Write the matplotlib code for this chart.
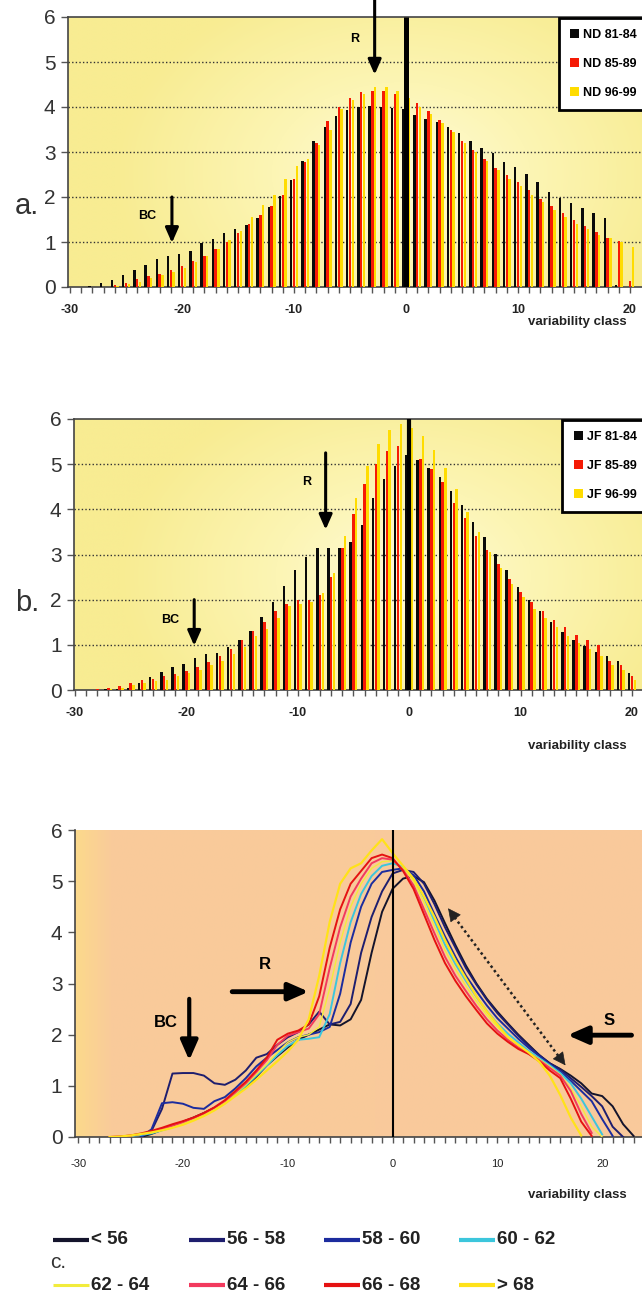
import numpy as np
import matplotlib
matplotlib.use("Agg")
import matplotlib.pyplot as plt
from matplotlib.colors import LinearSegmentedColormap
from matplotlib.lines import Line2D

plt.rcParams['font.family'] = ['Liberation Sans', 'DejaVu Sans']
plt.rcParams['axes.unicode_minus'] = False

## data, panel a (Nov-Dec)
classes = np.arange(-29, 21)
nd_labels = ["ND 81-84", "ND 85-89", "ND 96-99"]
nd_81_84 = [0.0, 0.03, 0.09, 0.16, 0.26, 0.38, 0.48, 0.62, 0.70, 0.74, 0.81, 0.98, 1.06, 1.20, 1.30,
            1.38, 1.53, 1.77, 2.03, 2.38, 2.79, 3.25, 3.55, 3.80, 3.93, 4.00, 4.02, 4.00, 3.98, 3.95,
            3.82, 3.73, 3.66, 3.56, 3.42, 3.25, 3.08, 2.98, 2.78, 2.66, 2.52, 2.33, 2.12, 1.98, 1.86,
            1.75, 1.64, 1.53, 0.05, 0.0]
nd_85_89 = [0.0, 0.0, 0.01, 0.04, 0.10, 0.18, 0.25, 0.30, 0.37, 0.46, 0.57, 0.68, 0.84, 1.01, 1.20,
            1.40, 1.60, 1.80, 2.05, 2.40, 2.78, 3.20, 3.68, 4.00, 4.20, 4.33, 4.35, 4.36, 4.30, 4.30,
            4.10, 3.92, 3.72, 3.50, 3.25, 3.05, 2.85, 2.65, 2.50, 2.33, 2.15, 1.95, 1.80, 1.65, 1.50,
            1.35, 1.22, 1.10, 1.02, 0.13]
nd_96_99 = [0.0, 0.0, 0.0, 0.02, 0.06, 0.12, 0.20, 0.26, 0.33, 0.42, 0.55, 0.68, 0.85, 1.05, 1.25,
            1.55, 1.82, 2.05, 2.40, 2.70, 2.85, 3.15, 3.50, 3.95, 4.15, 4.30, 4.45, 4.45, 4.35, 4.20,
            4.00, 3.85, 3.65, 3.45, 3.20, 3.00, 2.80, 2.60, 2.40, 2.25, 2.05, 1.90, 1.72, 1.55, 1.40,
            1.30, 1.15, 1.10, 1.00, 0.90]

## data, panel b (Jan-Feb)
jf_labels = ["JF 81-84", "JF 85-89", "JF 96-99"]
jf_81_84 = [0.0, 0.0, 0.02, 0.03, 0.05, 0.15, 0.28, 0.40, 0.52, 0.57, 0.70, 0.80, 0.83, 0.95, 1.10,
            1.30, 1.62, 1.95, 2.30, 2.65, 2.95, 3.15, 3.15, 3.15, 3.28, 3.65, 4.25, 4.67, 4.95, 5.20,
            5.10, 4.92, 4.72, 4.40, 4.10, 3.72, 3.38, 3.02, 2.65, 2.28, 2.00, 1.76, 1.50, 1.28, 1.10,
            0.98, 0.85, 0.76, 0.65, 0.38]
jf_85_89 = [0.0, 0.02, 0.05, 0.08, 0.15, 0.22, 0.25, 0.30, 0.36, 0.42, 0.52, 0.62, 0.75, 0.90, 1.10,
            1.30, 1.50, 1.75, 1.90, 2.00, 2.00, 2.10, 2.50, 3.15, 3.90, 4.55, 5.00, 5.30, 5.40, 5.35,
            5.12, 4.90, 4.60, 4.15, 3.80, 3.42, 3.10, 2.78, 2.45, 2.18, 1.95, 1.76, 1.55, 1.40, 1.22,
            1.10, 1.00, 0.65, 0.55, 0.30]
jf_96_99 = [0.0, 0.0, 0.03, 0.05, 0.10, 0.15, 0.20, 0.22, 0.30, 0.38, 0.45, 0.55, 0.65, 0.80, 0.95,
            1.20, 1.35, 1.60, 1.85, 1.90, 1.95, 2.15, 2.60, 3.40, 4.25, 4.95, 5.45, 5.75, 5.88, 5.80,
            5.62, 5.32, 4.92, 4.45, 3.95, 3.50, 3.05, 2.70, 2.35, 2.05, 1.80, 1.60, 1.40, 1.20, 1.05,
            0.90, 0.75, 0.55, 0.45, 0.22]

## data, panel c (curves by class), x = -27 .. 24
classes_c = np.arange(-27, 25)
c_labels = ["< 56", "56 - 58", "58 - 60", "60 - 62", "62 - 64", "64 - 66", "66 - 68", "> 68"]
c_lt56 = [None, None, None, 0.0, 0.06, 0.14, 0.22, 0.30, 0.38, 0.47, 0.57, 0.68, 0.82, 0.98, 1.18,
          1.40, 1.58, 1.75, 1.90, 2.00, 2.10, 2.20, 2.18, 2.30, 2.68, 3.60, 4.40,
          4.85, 5.05, 5.10, 4.98, 4.62, 4.18, 3.75, 3.35, 3.00, 2.70, 2.45, 2.22, 2.00, 1.80, 1.60,
          1.44, 1.33, 1.20, 1.05, 0.85, 0.80, 0.60, 0.25, 0.02, None]
c_56_58 = [None, None, None, 0.0, 0.12, 0.55, 1.24, 1.25, 1.25, 1.20, 1.05, 1.02, 1.12, 1.30, 1.55,
           1.62, 1.80, 1.95, 2.05, 2.20, 2.45, 2.20, 2.25, 2.60, 3.60, 4.30, 4.80,
           5.15, 5.22, 5.18, 4.95, 4.55, 4.10, 3.70, 3.30, 2.98, 2.68, 2.42, 2.20, 1.98, 1.78, 1.60,
           1.44, 1.32, 1.15, 0.98, 0.80, 0.60, 0.20, 0.0, None, None]
c_58_60 = [None, None, None, 0.0, 0.15, 0.66, 0.68, 0.65, 0.57, 0.55, 0.70, 0.78, 0.95, 1.15, 1.38,
           1.55, 1.70, 1.85, 1.95, 2.00, 2.05, 2.15, 2.80, 3.80, 4.50, 4.95, 5.18,
           5.22, 5.25, 5.12, 4.80, 4.35, 3.92, 3.52, 3.15, 2.85, 2.57, 2.32, 2.12, 1.92, 1.74, 1.58,
           1.42, 1.28, 1.10, 0.90, 0.70, 0.35, 0.02, None, None, None]
c_60_62 = [None, 0.0, 0.02, 0.04, 0.07, 0.13, 0.19, 0.26, 0.34, 0.43, 0.54, 0.67, 0.82, 1.00, 1.20,
           1.40, 1.60, 1.78, 1.90, 1.92, 1.95, 2.40, 3.40, 4.20, 4.75, 5.10, 5.30,
           5.35, 5.28, 5.05, 4.68, 4.22, 3.76, 3.38, 3.05, 2.74, 2.46, 2.22, 2.02, 1.85, 1.68, 1.54,
           1.40, 1.25, 1.05, 0.75, 0.40, 0.05, None, None, None, None]
c_62_64 = [0.0, 0.01, 0.02, 0.05, 0.08, 0.14, 0.20, 0.27, 0.35, 0.44, 0.55, 0.68, 0.84, 1.02, 1.22,
           1.42, 1.65, 1.85, 1.95, 2.00, 2.15, 2.90, 3.80, 4.50, 4.95, 5.25, 5.38,
           5.40, 5.25, 5.00, 4.58, 4.12, 3.65, 3.28, 2.95, 2.65, 2.38, 2.15, 1.95, 1.79, 1.65, 1.52,
           1.38, 1.22, 0.95, 0.60, 0.20, 0.0, None, None, None, None]
c_64_66 = [0.0, 0.01, 0.03, 0.06, 0.10, 0.16, 0.22, 0.29, 0.37, 0.46, 0.57, 0.70, 0.87, 1.05, 1.27,
           1.50, 1.80, 1.98, 2.05, 2.12, 2.40, 3.30, 4.10, 4.70, 5.05, 5.35, 5.45,
           5.42, 5.22, 4.92, 4.45, 3.98, 3.52, 3.15, 2.85, 2.56, 2.30, 2.08, 1.90, 1.75, 1.63, 1.50,
           1.35, 1.20, 0.90, 0.45, 0.08, None, None, None, None, None]
c_66_68 = [0.0, 0.01, 0.03, 0.07, 0.12, 0.18, 0.25, 0.31, 0.38, 0.47, 0.58, 0.72, 0.90, 1.08, 1.30,
           1.55, 1.90, 2.02, 2.08, 2.20, 2.75, 3.70, 4.45, 4.95, 5.20, 5.45, 5.52,
           5.45, 5.20, 4.85, 4.35, 3.85, 3.40, 3.05, 2.75, 2.48, 2.22, 2.02, 1.86, 1.72, 1.62, 1.48,
           1.30, 1.15, 0.75, 0.30, 0.02, None, None, None, None, None]
c_gt68 = [0.0, 0.01, 0.03, 0.06, 0.09, 0.13, 0.18, 0.24, 0.32, 0.41, 0.52, 0.65, 0.80, 0.95, 1.12,
          1.30, 1.48, 1.67, 1.90, 2.30, 3.15, 4.20, 4.95, 5.25, 5.35, 5.60, 5.82,
          5.55, 5.30, 5.05, 4.70, 4.30, 3.85, 3.45, 3.10, 2.75, 2.45, 2.20, 1.95, 1.80, 1.65, 1.47,
          1.20, 0.82, 0.38, 0.03, None, None, None, None, None, None]

bar_colors = ["#0a0a0a", "#f51a05", "#ffdc00"]
c_colors = ["#14142c", "#1e1e6e", "#1c2c9e", "#3cc6dc", "#f2ec3c", "#f23a5e", "#e51212", "#ffe21a"]
c_widths = [1.4, 1.4, 1.4, 1.4, 1.0, 1.4, 1.4, 1.6]

W, H = 642, 1303
fig = plt.figure(figsize=(W / 100, H / 100), dpi=100)


def box(l, t, r, b):
    return [l / W, 1 - b / H, (r - l) / W, (b - t) / H]


def glow(ax, xl, stops, cx, cy, rx, ry):
    # radial glow behind the bars
    xx, yy = np.meshgrid(np.linspace(0, 1, 300), np.linspace(0, 1, 300))
    r = np.clip(np.sqrt(((xx - cx) / rx) ** 2 + ((yy - cy) / ry) ** 2), 0, 1)
    cmap = LinearSegmentedColormap.from_list("g", stops)
    ax.imshow(r, extent=(xl[0], xl[1], 0, 6), origin="lower", aspect="auto", cmap=cmap,
              vmin=0, vmax=1, zorder=0, interpolation="bilinear")


def arrow(ax, start, end, lw=2.2, ms=18):
    ax.annotate("", xy=end, xytext=start, annotation_clip=False,
                arrowprops=dict(arrowstyle="-|>,head_length=0.5,head_width=0.22", lw=lw,
                                color="black", mutation_scale=ms, shrinkA=0, shrinkB=0),
                zorder=6)


def bar_panel(ax, xl, series, labels, leg_top):
    glow(ax, xl, [(0, "#fffbd8"), (0.45, "#fcf5b4"), (1, "#f8ec92")], 0.58, 0.42, 0.5, 0.75)
    ax.set_xlim(*xl)
    ax.set_ylim(0, 6)
    for yv in range(1, 6):
        ax.axhline(yv, color="#333333", lw=1.0, ls=(0, (1, 1.6)), zorder=1)
    handles = []
    for vals, col, lab, o in zip(series, bar_colors, labels, [-0.25, 0.0, 0.25]):
        h = ax.bar(classes + o, vals, width=0.22, color=col, label=lab, zorder=3, linewidth=0)
        handles.append(h)
    ax.set_xticks(range(-30, 21, 10))
    ax.set_xticks(range(-30, 21), minor=True)
    ax.set_yticks(range(0, 7))
    ax.tick_params(axis="x", which="both", direction="out", length=4, width=1, color="#555555",
                   labelsize=9, pad=8)
    ax.tick_params(axis="y", direction="out", length=5, width=1, color="#555555", labelsize=15,
                   labelcolor="#333333", pad=4)
    for t in ax.get_xticklabels():
        t.set_fontweight("bold")
        t.set_color("#222222")
    for s in ["left", "bottom", "top"]:
        ax.spines[s].set_color("#444444")
        ax.spines[s].set_linewidth(1.2)
    ax.spines["right"].set_visible(False)
    leg = ax.legend(handles=handles, labels=labels, loc="upper right",
                    bbox_to_anchor=(1.0 + 6 / W, 1 - leg_top / H), bbox_transform=fig.transFigure,
                    borderaxespad=0, fancybox=False, framealpha=1, edgecolor="black",
                    prop=dict(size=9, weight="bold"), handlelength=0.75, handleheight=0.75,
                    handletextpad=0.3, labelspacing=1.35, borderpad=0.9)
    leg.get_frame().set_linewidth(2.0)
    leg.set_zorder(10)


## panel a
ax_a = fig.add_axes(box(68, 17, 642, 287))
bar_panel(ax_a, (-30.18, 21.07), [nd_81_84, nd_85_89, nd_96_99], nd_labels, 18)
ax_a.plot([0, 0], [0, 6], color="black", lw=3.6, zorder=4, solid_capstyle="butt")
arrow(ax_a, (-2.8, 6.4), (-2.8, 4.72))
ax_a.text(-4.6, 5.5, "R", ha="center", va="center", fontsize=9, fontweight="bold", zorder=6)
arrow(ax_a, (-20.9, 2.0), (-20.9, 0.98))
ax_a.text(-23.1, 1.57, "BC", ha="center", va="center", fontsize=9, fontweight="bold", zorder=6)

## panel b
ax_b = fig.add_axes(box(74, 419, 642, 690))
bar_panel(ax_b, (-30.09, 20.9), [jf_81_84, jf_85_89, jf_96_99], jf_labels, 420)
ax_b.plot([0, 0], [0, 6], color="black", lw=3.0, zorder=4, solid_capstyle="butt")
arrow(ax_b, (-7.5, 5.25), (-7.5, 3.55))
ax_b.text(-9.2, 4.6, "R", ha="center", va="center", fontsize=9, fontweight="bold", zorder=6)
arrow(ax_b, (-19.3, 2.0), (-19.3, 0.98))
ax_b.text(-21.5, 1.54, "BC", ha="center", va="center", fontsize=9, fontweight="bold", zorder=6)

## panel c
ax_c = fig.add_axes(box(75, 830, 642, 1137))
xl_c = (-30.3, 23.8)
xx, yy = np.meshgrid(np.linspace(0, 1, 400), np.linspace(0, 1, 10))
cmap_c = LinearSegmentedColormap.from_list("c", [(0, "#fcd98c"), (0.06, "#f9cb9a"), (1, "#f9c99c")])
ax_c.imshow(xx, extent=(xl_c[0], xl_c[1], 0, 6), origin="lower", aspect="auto", cmap=cmap_c,
            zorder=0, interpolation="bilinear")
ax_c.set_xlim(*xl_c)
ax_c.set_ylim(0, 6)
c_series = [c_lt56, c_56_58, c_58_60, c_60_62, c_62_64, c_64_66, c_66_68, c_gt68]
for vals, col, lw_, lab in zip(c_series, c_colors, c_widths, c_labels):
    yv = np.array([np.nan if v is None else v for v in vals], dtype=float)
    ax_c.plot(classes_c, yv, color=col, lw=lw_, label=lab, zorder=3)
ax_c.plot([0, 0], [0, 6], color="black", lw=1.5, zorder=4)
arrow(ax_c, (-19.4, 2.7), (-19.4, 1.5), lw=3.0, ms=24)
ax_c.text(-21.6, 2.23, "BC", ha="center", va="center", fontsize=12, fontweight="bold", zorder=6)
arrow(ax_c, (-15.3, 2.84), (-8.0, 2.84), lw=3.5, ms=24)
ax_c.text(-12.2, 3.38, "R", ha="center", va="center", fontsize=12, fontweight="bold", zorder=6)
arrow(ax_c, (22.8, 1.99), (16.7, 1.99), lw=3.5, ms=24)
ax_c.text(20.7, 2.27, "S", ha="center", va="center", fontsize=12, fontweight="bold", zorder=6)
ax_c.plot([5.6, 16.2], [4.38, 1.48], color="#222222", lw=1.8, ls=(0, (1, 1.2)), zorder=5)
ax_c.annotate("", xy=(5.3, 4.47), xytext=(5.7, 4.36),
              arrowprops=dict(arrowstyle="-|>,head_length=0.6,head_width=0.3", color="#222222",
                              lw=0.5, mutation_scale=14, shrinkA=0, shrinkB=0), zorder=5)
ax_c.annotate("", xy=(16.5, 1.4), xytext=(16.1, 1.51),
              arrowprops=dict(arrowstyle="-|>,head_length=0.6,head_width=0.3", color="#222222",
                              lw=0.5, mutation_scale=14, shrinkA=0, shrinkB=0), zorder=5)
ax_c.set_xticks(range(-30, 21, 10))
ax_c.set_xticks(range(-30, 24), minor=True)
ax_c.set_yticks(range(0, 7))
ax_c.tick_params(axis="x", which="both", direction="out", length=4, width=1, color="#555555",
                 labelsize=8, pad=12, labelcolor="#222222")
ax_c.tick_params(axis="y", direction="out", length=5, width=1, color="#555555", labelsize=15,
                 labelcolor="#333333", pad=4)
for s in ["top", "right"]:
    ax_c.spines[s].set_visible(False)
for s in ["left", "bottom"]:
    ax_c.spines[s].set_color("#444444")
    ax_c.spines[s].set_linewidth(1.2)

## panel letters and axis titles
for py in [322, 746, 1195]:
    fig.text(627 / W, 1 - py / H, "variability class", ha="right", va="center", fontsize=9.5,
             fontweight="bold", color="#222222")
fig.text(27 / W, 1 - 206 / H, "a.", ha="center", va="center", fontsize=21, color="#333333")
fig.text(27 / W, 1 - 603 / H, "b.", ha="center", va="center", fontsize=21, color="#333333")
fig.text(58 / W, 1 - 1263 / H, "c.", ha="center", va="center", fontsize=15, color="#333333")

## legend of panel c, two rows of four
leg_cols = [53, 189, 324, 459]
leg_rows = [1240, 1285]
for i, (lab, col) in enumerate(zip(c_labels, c_colors)):
    px = leg_cols[i % 4]
    py = leg_rows[i // 4]
    lw_ = 2.2 if i == 4 else 3.0
    fig.add_artist(Line2D([px / W, (px + 36) / W], [1 - py / H, 1 - py / H], color=col, lw=lw_,
                          solid_capstyle="butt", transform=fig.transFigure))
    fig.text((px + 38) / W, 1 - py / H, lab, ha="left", va="center", fontsize=13.5,
             fontweight="bold", color="#222222")

fig.savefig("out.png", dpi=100)
